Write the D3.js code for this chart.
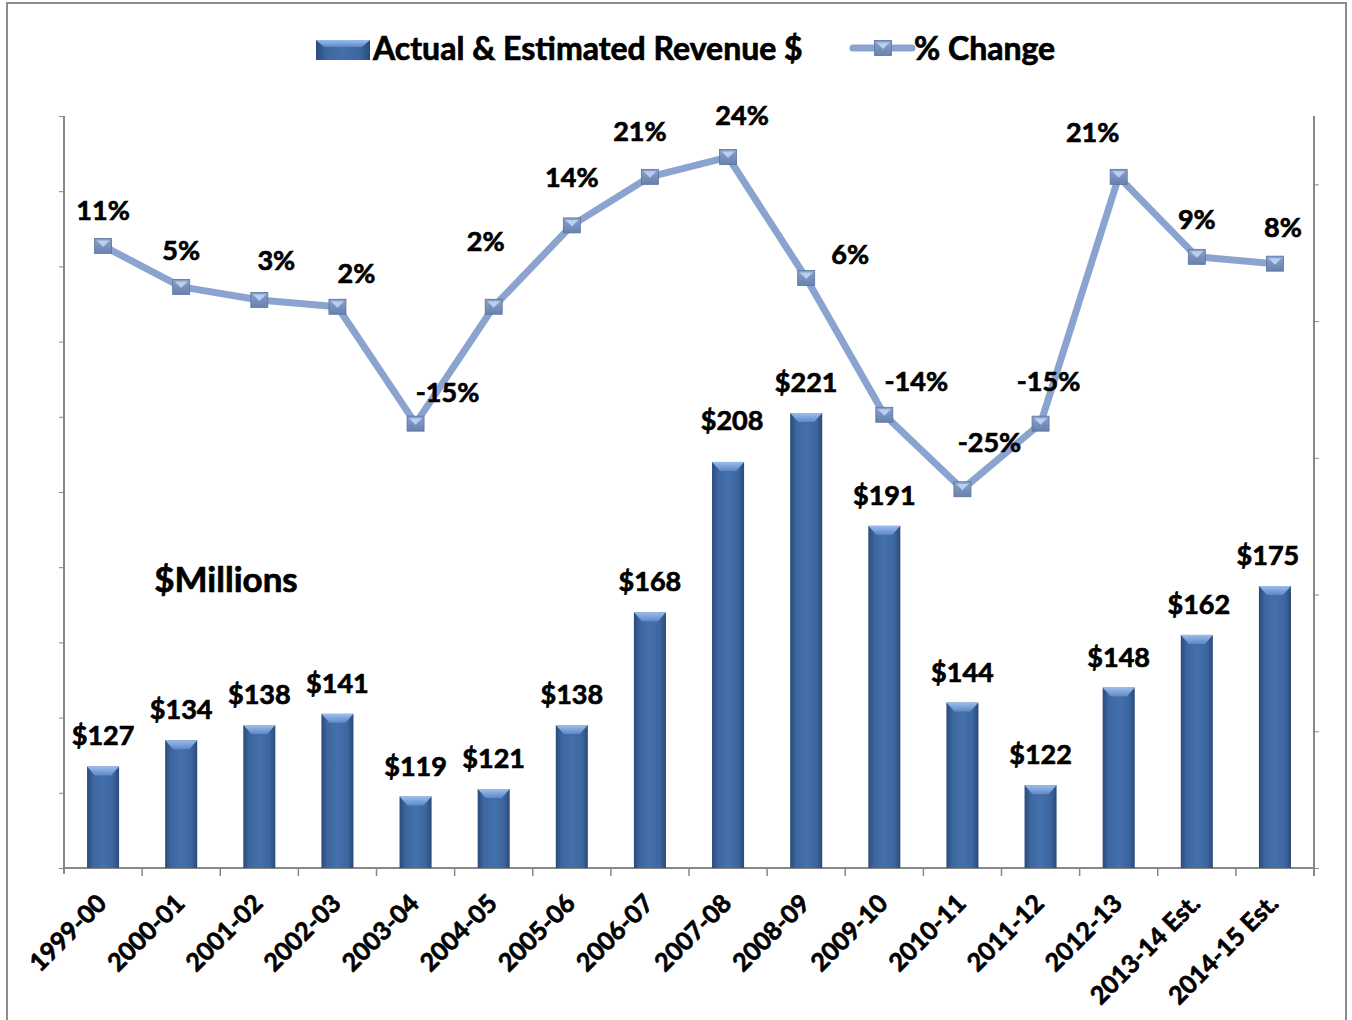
<!DOCTYPE html>
<html>
<head>
<meta charset="utf-8">
<script src="https://cdn.jsdelivr.net/npm/d3@7/dist/d3.min.js"></script>
<style>
    body { margin: 0; background: #fff; }
    text { font-family: Lato, "Open Sans", sans-serif; font-weight: bold; fill: #000;
        stroke: #000; stroke-width: 0.7; paint-order: stroke; }
    .axis path, .axis line { stroke: #888; }
</style>
</head>
<body>
<div id="chart"></div>
<script>
var width = 1352
var height = 1020

// data
var years = ['1999-00', '2000-01', '2001-02', '2002-03', '2003-04', '2004-05', '2005-06', '2006-07',
    '2007-08', '2008-09', '2009-10', '2010-11', '2011-12', '2012-13', '2013-14 Est.', '2014-15 Est.']
var revenue = [127, 134, 138, 141, 119, 121, 138, 168, 208, 221, 191, 144, 122, 148, 162, 175]
var pctChange = [11, 5, 3.1, 2.1, -15, 2.1, 14, 21.1, 24, 6.3, -13.7, -24.6, -15, 21.1, 9.4, 8.4]
var revTicks = [100, 120, 140, 160, 180, 200, 220, 240, 260, 280, 300]
var pctTicks = [-80, -60, -40, -20, 0, 20]

// label nudges (px), kept apart from the data
var pctLabelDx = [0, 0, 17, 19, 32, -8, 0, -10, 14, 44, 32, 27, 8, -26, 0, 8]
var pctLabelDy = [-26, -27, -30, -24, -22, -56, -38, -36, -32, -14, -24, -37, -33, -35, -28, -27]
var revLabelDx = [0, 0, 0, 0, 0, 0, 0, 0, 4, 0, 0, 0, 0, 0, 2, -7]
var revLabelDy = [-21, -21, -21, -21, -21, -21, -21, -21, -32, -21, -21, -21, -21, -21, -21, -21]

var plotLeft = 64
var plotRight = 1314
var plotTop = 116
var plotBottom = 868

var svg = d3.select('#chart')
    .append('svg')
    .attr('width', width)
    .attr('height', height)

var defs = svg.append('defs')

var barGrad = defs.append('linearGradient').attr('id', 'barGrad')
    .attr('x1', 0).attr('x2', 1).attr('y1', 0).attr('y2', 0)
barGrad.append('stop').attr('offset', '0%').attr('stop-color', '#2a4a78')
barGrad.append('stop').attr('offset', '18%').attr('stop-color', '#3c669f')
barGrad.append('stop').attr('offset', '50%').attr('stop-color', '#4470ab')
barGrad.append('stop').attr('offset', '82%').attr('stop-color', '#3c669f')
barGrad.append('stop').attr('offset', '100%').attr('stop-color', '#2a4a78')

var bevelGrad = defs.append('linearGradient').attr('id', 'bevelGrad')
    .attr('x1', 0).attr('x2', 0).attr('y1', 0).attr('y2', 1)
bevelGrad.append('stop').attr('offset', '0%').attr('stop-color', '#9cbdec')
bevelGrad.append('stop').attr('offset', '100%').attr('stop-color', '#5d88c6')

var markGrad = defs.append('linearGradient').attr('id', 'markGrad')
    .attr('x1', 0).attr('x2', 0).attr('y1', 0).attr('y2', 1)
markGrad.append('stop').attr('offset', '0%').attr('stop-color', '#8aa1cb')
markGrad.append('stop').attr('offset', '100%').attr('stop-color', '#6881ae')

// outer frame
svg.append('rect')
    .attr('x', 7).attr('y', 3)
    .attr('width', 1339).attr('height', 1040)
    .attr('fill', 'none')
    .attr('stroke', '#8c8c8c')
    .attr('stroke-width', 2)

var x = d3.scaleBand()
    .domain(years)
    .range([plotLeft, plotRight])
    .paddingInner(0.59)
    .paddingOuter(0.295)

var yRev = d3.scaleLinear()
    .domain([100, 300])
    .range([plotBottom, plotTop])

var yPct = d3.scaleLinear()
    .domain([-80, 30])
    .range([plotBottom, plotTop])

var cx = function (d) { return x(d) + x.bandwidth() / 2 }

// axes
svg.append('g')
    .attr('class', 'axis')
    .attr('transform', 'translate(' + plotLeft + ',0)')
    .call(d3.axisLeft(yRev).tickValues(revTicks).tickSize(5).tickFormat(''))
    .call(function (g) {
        g.select('.domain').attr('stroke-width', 2).attr('d', 'M0,' + plotTop + 'V' + (plotBottom + 6))
        g.selectAll('.tick line').attr('stroke', '#999')
    })

svg.append('g')
    .attr('class', 'axis')
    .attr('transform', 'translate(' + plotRight + ',0)')
    .call(d3.axisRight(yPct).tickValues(pctTicks).tickSize(5).tickFormat(''))
    .call(function (g) {
        g.select('.domain').attr('stroke-width', 2).attr('d', 'M0,' + plotTop + 'V' + (plotBottom + 8))
        g.selectAll('.tick line').attr('stroke', '#bbb')
    })

svg.append('line')
    .attr('x1', plotLeft).attr('x2', plotRight)
    .attr('y1', plotBottom).attr('y2', plotBottom)
    .attr('stroke', '#888').attr('stroke-width', 2)

var step = x.step()
svg.selectAll('.xtick')
    .data(years.slice(1))
    .enter().append('line')
    .attr('x1', function (d) { return x(d) - step * x.paddingInner() / 2 })
    .attr('x2', function (d) { return x(d) - step * x.paddingInner() / 2 })
    .attr('y1', plotBottom)
    .attr('y2', plotBottom + 8)
    .attr('stroke', '#888')
    .attr('stroke-width', 1.5)

svg.selectAll('.xlabel')
    .data(years)
    .enter().append('text')
    .text(function (d) { return d })
    .attr('text-anchor', 'end')
    .attr('font-size', 25)
    .attr('transform', function (d) {
        return 'translate(' + (cx(d) + 5) + ',' + (plotBottom + 37) + '),rotate(-45)'
    })

// bars
var bars = svg.append('g')
bars.selectAll('.bar')
    .data(revenue)
    .enter().append('rect')
    .attr('x', function (d, i) { return x(years[i]) })
    .attr('y', function (d) { return yRev(d) })
    .attr('width', x.bandwidth())
    .attr('height', function (d) { return plotBottom - yRev(d) })
    .attr('fill', 'url(#barGrad)')

bars.selectAll('.bevel')
    .data(revenue)
    .enter().append('path')
    .attr('fill', 'url(#bevelGrad)')
    .attr('d', function (d, i) {
        var x0 = x(years[i]), x1 = x0 + x.bandwidth(), t = yRev(d)
        return 'M' + x0 + ',' + t + 'L' + x1 + ',' + t + 'L' + (x1 - 8) + ',' + (t + 9) +
            'L' + (x0 + 8) + ',' + (t + 9) + 'Z'
    })

bars.selectAll('.revLabel')
    .data(revenue)
    .enter().append('text')
    .text(function (d) { return '$' + d })
    .attr('text-anchor', 'middle')
    .attr('font-size', 27)
    .attr('x', function (d, i) { return cx(years[i]) + revLabelDx[i] })
    .attr('y', function (d, i) { return yRev(d) + revLabelDy[i] })

// % change line
var line = d3.line()
    .x(function (d, i) { return cx(years[i]) })
    .y(function (d) { return yPct(d) })

svg.append('path')
    .datum(pctChange)
    .attr('fill', 'none')
    .attr('stroke', '#8ba4cf')
    .attr('stroke-width', 7)
    .attr('stroke-linejoin', 'round')
    .attr('d', line)

var drawMarker = function (g, px, py) {
    g.append('rect')
        .attr('x', px - 8.5).attr('y', py - 7.5)
        .attr('width', 17).attr('height', 15)
        .attr('fill', 'url(#markGrad)')
        .attr('stroke', '#5a729c')
        .attr('stroke-width', 0.8)
    g.append('path')
        .attr('d', 'M' + (px - 6.5) + ',' + (py - 5.5) + 'L' + (px + 6.5) + ',' + (py - 5.5) + 'L' + px + ',' + (py + 1) + 'Z')
        .attr('fill', '#b9cff0')
}

var marks = svg.append('g')
pctChange.forEach(function (d, i) {
    drawMarker(marks, cx(years[i]), yPct(d))
})

svg.selectAll('.pctLabel')
    .data(pctChange)
    .enter().append('text')
    .text(function (d) { return Math.round(d) + '%' })
    .attr('text-anchor', 'middle')
    .attr('font-size', 27)
    .attr('x', function (d, i) { return cx(years[i]) + pctLabelDx[i] })
    .attr('y', function (d, i) { return yPct(d) + pctLabelDy[i] })

svg.append('text')
    .text('$Millions')
    .attr('x', 226)
    .attr('y', 592)
    .attr('text-anchor', 'middle')
    .attr('font-size', 35)

// legend
var legend = svg.append('g')
legend.append('rect')
    .attr('x', 316).attr('y', 40)
    .attr('width', 54).attr('height', 20)
    .attr('fill', 'url(#barGrad)')
legend.append('path')
    .attr('d', 'M316,40L370,40L362,47L324,47Z')
    .attr('fill', 'url(#bevelGrad)')
legend.append('text')
    .text('Actual & Estimated Revenue $')
    .attr('x', 373)
    .attr('y', 60)
    .attr('font-size', 32)

legend.append('line')
    .attr('x1', 853).attr('x2', 912)
    .attr('y1', 48).attr('y2', 48)
    .attr('stroke', '#8ba4cf')
    .attr('stroke-width', 7)
    .attr('stroke-linecap', 'round')
drawMarker(legend, 883, 48)
legend.append('text')
    .text('% Change')
    .attr('x', 914)
    .attr('y', 60)
    .attr('font-size', 32)
</script>
</body>
</html>
